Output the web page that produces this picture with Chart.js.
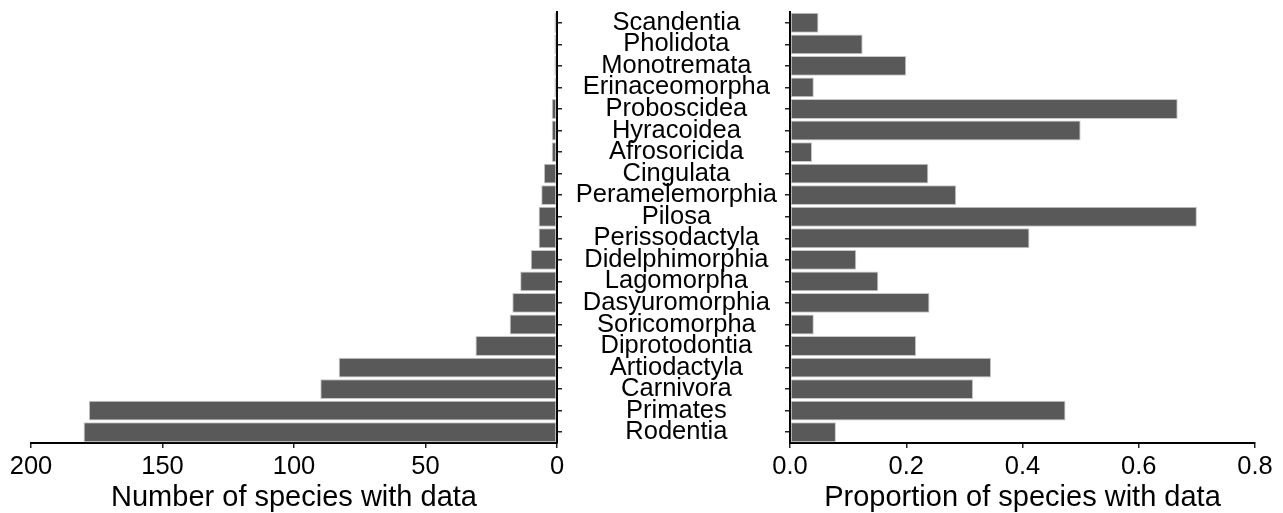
<!DOCTYPE html>
<html>
<head>
<meta charset="utf-8">
<script src="https://cdn.jsdelivr.net/npm/chart.js@4.4.1/dist/chart.umd.min.js"></script>
<style>
  body { margin: 0; background: #fff; }
  #wrap { position: relative; width: 1283px; height: 513px; }
  canvas { position: absolute; top: 0; }
  #left { left: 0; }
  #right { left: 560px; }
</style>
</head>
<body>
<div id="wrap">
  <canvas id="left" width="565" height="513"></canvas>
  <canvas id="right" width="723" height="513"></canvas>
</div>
<script>
// mammal orders, top to bottom
var orders = ['Scandentia', 'Pholidota', 'Monotremata', 'Erinaceomorpha', 'Proboscidea',
              'Hyracoidea', 'Afrosoricida', 'Cingulata', 'Peramelemorphia', 'Pilosa',
              'Perissodactyla', 'Didelphimorphia', 'Lagomorpha', 'Dasyuromorphia', 'Soricomorpha',
              'Diprotodontia', 'Artiodactyla', 'Carnivora', 'Primates', 'Rodentia'];
var speciesCount = [1, 1, 1, 1, 2, 2, 2, 5, 6, 7, 7, 10, 14, 17, 18, 31, 83, 90, 178, 180];
var speciesProp = [0.049, 0.125, 0.2, 0.041, 0.667, 0.5, 0.038, 0.238, 0.286, 0.70,
                   0.412, 0.114, 0.152, 0.240, 0.041, 0.217, 0.346, 0.315, 0.474, 0.079];
var countTicks = [0, 50, 100, 150, 200];
var propTicks = [0, 0.2, 0.4, 0.6, 0.8];

var fam = "'Liberation Sans', Arial, sans-serif";
var barFill = '#595959';
var barEdge = '#c8c8c8';

function noPad(s) {
  s.paddingLeft = 0; s.paddingRight = 0; s.paddingTop = 0; s.paddingBottom = 0;
}
function setTicks(arr) {
  return function(s) { s.ticks = arr.map(function(v) { return { value: v }; }); };
}

var tickGrid = { drawOnChartArea: false, offset: false, tickLength: 5, color: '#222', lineWidth: 1.5 };
var axisBorder = { color: '#000', width: 2 };

new Chart(document.getElementById('left'), {
  type: 'bar',
  data: {
    labels: orders,
    datasets: [{
      data: speciesCount,
      backgroundColor: barFill, borderColor: barEdge, borderWidth: 1, borderSkipped: false,
      barPercentage: 0.92, categoryPercentage: 1
    }]
  },
  options: {
    indexAxis: 'y', responsive: false, animation: false, devicePixelRatio: 1,
    layout: { padding: { left: 31, right: 2, top: 12, bottom: 0 } },
    plugins: { legend: { display: false }, tooltip: { enabled: false } },
    scales: {
      x: {
        reverse: true, min: 0, max: 200,
        afterBuildTicks: setTicks(countTicks),
        afterFit: function(s) { noPad(s); s.height = 70; },
        grid: tickGrid, border: axisBorder,
        ticks: { color: '#000', font: { family: fam, size: 25.5 }, padding: 4, maxRotation: 0, autoSkip: false },
        title: { display: true, text: 'Number of species with data', color: '#000',
                 font: { family: fam, size: 29, lineHeight: 1.05 }, padding: 0 }
      },
      y: {
        position: 'right',
        afterFit: function(s) { noPad(s); s.width = 6; },
        grid: tickGrid, border: axisBorder,
        ticks: { display: false }
      }
    }
  }
});

new Chart(document.getElementById('right'), {
  type: 'bar',
  data: {
    labels: orders,
    datasets: [{
      data: speciesProp,
      backgroundColor: barFill, borderColor: barEdge, borderWidth: 1, borderSkipped: false,
      barPercentage: 0.92, categoryPercentage: 1
    }]
  },
  options: {
    indexAxis: 'y', responsive: false, animation: false, devicePixelRatio: 1,
    layout: { padding: { left: 0, right: 28, top: 12, bottom: 0 } },
    plugins: { legend: { display: false }, tooltip: { enabled: false } },
    scales: {
      x: {
        min: 0, max: 0.8,
        afterBuildTicks: setTicks(propTicks),
        afterFit: function(s) { noPad(s); s.height = 70; },
        grid: tickGrid, border: axisBorder,
        ticks: { color: '#000', font: { family: fam, size: 25.5 }, padding: 4, maxRotation: 0, autoSkip: false,
                 callback: function(v) { return Number(v).toFixed(1); } },
        title: { display: true, text: 'Proportion of species with data', color: '#000',
                 font: { family: fam, size: 29, lineHeight: 1.05 }, padding: 0 }
      },
      y: {
        position: 'left',
        afterFit: function(s) { noPad(s); s.width = 230; },
        grid: tickGrid, border: axisBorder,
        ticks: { color: '#000', font: { family: fam, size: 25.5 }, crossAlign: 'center', padding: 8, autoSkip: false }
      }
    }
  }
});
</script>
</body>
</html>
